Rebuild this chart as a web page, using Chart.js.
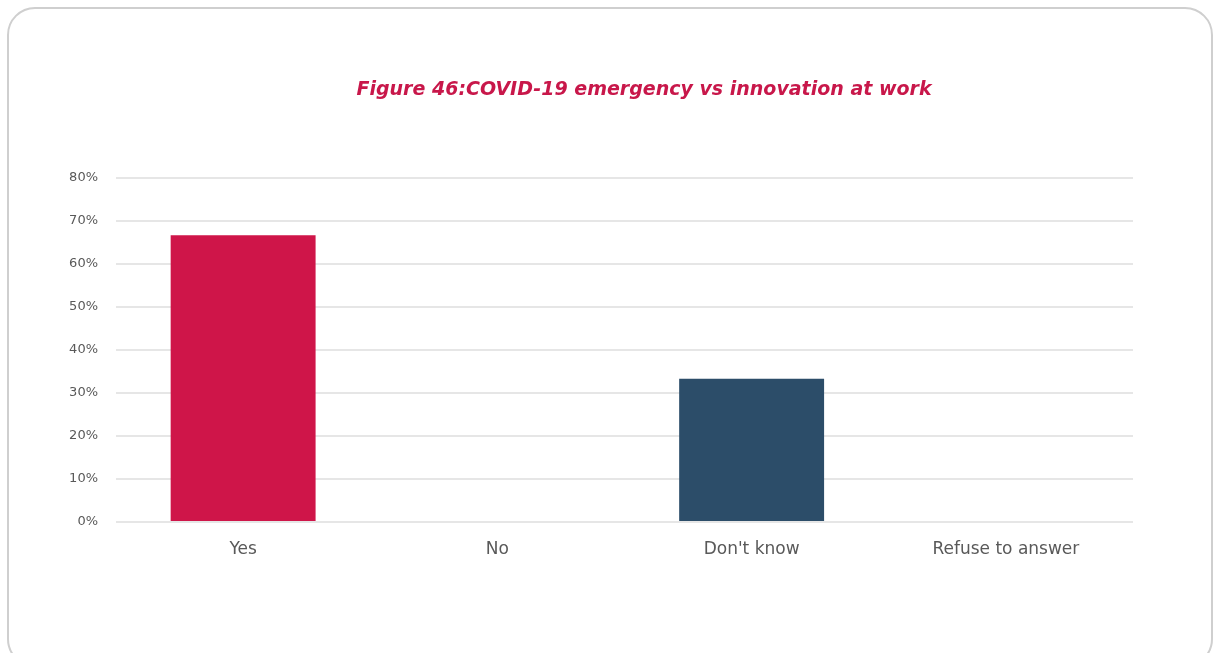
<!DOCTYPE html>
<html>
<head>
<meta charset="utf-8">
<script src="https://cdn.jsdelivr.net/npm/chart.js@4"></script>
<style>
  html, body { margin: 0; padding: 0; background: #fff; }
  #wrap { position: relative; width: 1214px; height: 653px; overflow: hidden; }
  #card {
    position: absolute; left: 7px; top: 7px; width: 1206px; height: 660px;
    border: 2px solid #cfcfcf; border-radius: 28px; box-sizing: border-box;
  }
  #c { position: absolute; left: 0; top: 0; }
</style>
</head>
<body>
<div id="wrap">
  <div id="card"></div>
  <canvas id="c" width="1214" height="653"></canvas>
</div>
<script>
// dati del grafico
const titolo = "Figure 46:COVID-19 emergency vs innovation at work";
const categorie = ["Yes", "No", "Don't know", "Refuse to answer"];
const valori = [66.7, 0, 33.3, 0];
const tickY = [0, 10, 20, 30, 40, 50, 60, 70, 80];

const coloriBarre = ["#cf1549", "#cf1549", "#2c4d69", "#2c4d69"];

// titolo disegnato a mano, centrato sul riquadro (non sul canvas)
const titoloPlugin = {
  id: "titoloCard",
  afterDraw(chart) {
    const c = chart.ctx;
    c.save();
    c.fillStyle = "#c8174a";
    c.font = "italic bold 19px 'DejaVu Sans'";
    c.textAlign = "center";
    c.textBaseline = "middle";
    c.fillText(titolo, 644, 90);
    c.restore();
  }
};

const ctx = document.getElementById("c");

new Chart(ctx, {
  type: "bar",
  data: {
    labels: categorie,
    datasets: [{
      data: valori,
      backgroundColor: coloriBarre,
      borderWidth: 0,
      categoryPercentage: 1,
      barPercentage: 0.57
    }]
  },
  options: {
    responsive: false,
    animation: false,
    layout: { padding: { left: 0, right: 81, top: 178, bottom: 0 } },
    plugins: {
      legend: { display: false },
      tooltip: { enabled: false },
      title: { display: false }
    },
    scales: {
      x: {
        grid: { display: false, drawTicks: false },
        border: { display: false },
        ticks: {
          color: "#595959",
          font: { family: "DejaVu Sans", size: 17 },
          padding: 17
        },
        afterFit: s => { s.height = 131; }
      },
      y: {
        min: 0,
        max: 80,
        afterBuildTicks: s => { s.ticks = tickY.map(v => ({ value: v })); },
        grid: { color: "#e6e6e6", lineWidth: 2, drawTicks: false },
        border: { display: false },
        ticks: {
          color: "#595959",
          font: { family: "DejaVu Sans", size: 13 },
          padding: 18,
          callback: v => v + "%"
        },
        afterFit: s => { s.width = 116; }
      }
    }
  },
  plugins: [titoloPlugin]
});
</script>
</body>
</html>
